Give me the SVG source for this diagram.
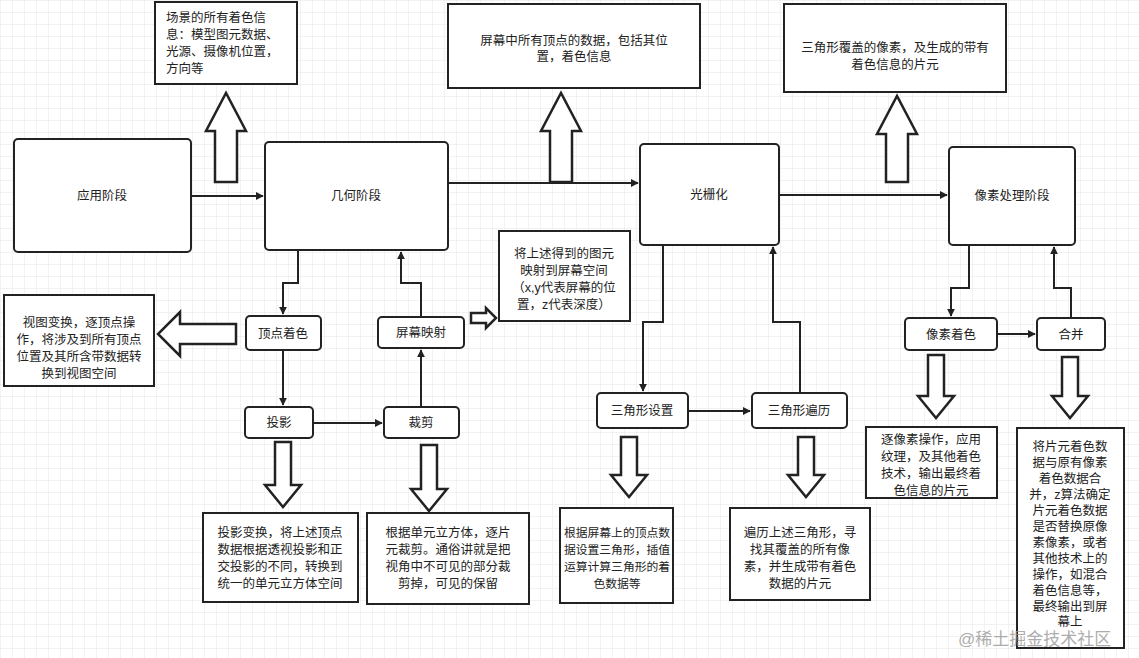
<svg xmlns="http://www.w3.org/2000/svg" width="1139" height="658" viewBox="0 0 1139 658">
<defs>
<pattern id="grid" width="12" height="12" patternUnits="userSpaceOnUse"><path d="M12 0H0V12" fill="none" stroke="#e6e6e6" stroke-width="1"/></pattern>
<marker id="ah" viewBox="0 0 10 10" refX="9" refY="5" markerWidth="8" markerHeight="8" markerUnits="userSpaceOnUse" orient="auto"><path d="M0,0 L10,5 L0,10 Z" fill="#222"/></marker>
<style>
.box{fill:#fff;stroke:#222;stroke-width:2}
.note{fill:#fff;stroke:#222;stroke-width:2}
.ha{fill:#fff;stroke:#222;stroke-width:2.5;stroke-linejoin:miter}
.c{fill:none;stroke:#222;stroke-width:2;marker-end:url(#ah)}
text{font-family:"Liberation Sans","Noto Sans CJK SC",sans-serif;font-size:12.5px;fill:#222}
.m{text-anchor:middle}
.s{font-size:11.8px}
</style>
</defs>
<rect width="1139" height="658" fill="#fff"/>
<rect width="1139" height="658" fill="url(#grid)"/>
<g id="connectors">
<path class="c" d="M191,196 H263"/>
<path class="c" d="M448,183 H638"/>
<path class="c" d="M779,195 H947"/>
<path class="c" d="M298,250 V283 H283 V314"/>
<path class="c" d="M421,317 V283 H401 V252"/>
<path class="c" d="M283,350 V405"/>
<path class="c" d="M313,423 H382"/>
<path class="c" d="M421,407 V350"/>
<path class="c" d="M663,245 V322 H643 V391"/>
<path class="c" d="M688,411 H750"/>
<path class="c" d="M800,393 V322 H773 V247"/>
<path class="c" d="M969,245 V288 H951 V316"/>
<path class="c" d="M997,334 H1035"/>
<path class="c" d="M1071,318 V288 H1054 V247"/>
<path class="ha" d="M215,182 H237 V131 H246 L226,93 L206,131 H215 Z"/>
<path class="ha" d="M550,182 H572 V131 H581 L561,93 L541,131 H550 Z"/>
<path class="ha" d="M886,182 H908 V134 H917 L897,96 L877,134 H886 Z"/>
<path class="ha" d="M236,324 H180 V312 L158,334 L180,356 V344 H236 Z"/>
<path class="ha" d="M471,313 H486 V308 L496,318 L486,328 V323 H471 Z"/>
<path class="ha" d="M275,442 H291 V485 H301 L283,507 L265,485 H275 Z"/>
<path class="ha" d="M421,445 H437 V489 H447 L429,511 L411,489 H421 Z"/>
<path class="ha" d="M621,437 H637 V475 H647 L629,497 L611,475 H621 Z"/>
<path class="ha" d="M798,437 H814 V475 H824 L806,497 L788,475 H798 Z"/>
<path class="ha" d="M928,355 H944 V396 H954 L936,418 L918,396 H928 Z"/>
<path class="ha" d="M1062,357 H1078 V396 H1088 L1070,418 L1052,396 H1062 Z"/>
</g>
<g id="n-app"><rect class="box" x="14" y="139" width="177" height="113" rx="4"/><text class="m" x="102" y="200">应用阶段</text></g>
<g id="n-geo"><rect class="box" x="265" y="142" width="183" height="108" rx="4"/><text class="m" x="356" y="200">几何阶段</text></g>
<g id="n-ras"><rect class="box" x="640" y="144" width="139" height="101" rx="4"/><text class="m" x="709" y="199">光栅化</text></g>
<g id="n-pix"><rect class="box" x="949" y="147" width="126" height="98" rx="4"/><text class="m" x="1012" y="200">像素处理阶段</text></g>
<g id="n-vs"><rect class="box" x="246" y="316" width="75" height="34" rx="4"/><text class="m" x="283" y="338">顶点着色</text></g>
<g id="n-sm"><rect class="box" x="378" y="317" width="86" height="31" rx="4"/><text class="m" x="421" y="337">屏幕映射</text></g>
<g id="n-proj"><rect class="box" x="245" y="407" width="68" height="31" rx="4"/><text class="m" x="279" y="427">投影</text></g>
<g id="n-clip"><rect class="box" x="384" y="407" width="75" height="31" rx="4"/><text class="m" x="421" y="427">裁剪</text></g>
<g id="n-tset"><rect class="box" x="597" y="393" width="91" height="35" rx="4"/><text class="m" x="642" y="415">三角形设置</text></g>
<g id="n-ttrav"><rect class="box" x="752" y="393" width="95" height="35" rx="4"/><text class="m" x="799" y="415">三角形遍历</text></g>
<g id="n-ps"><rect class="box" x="905" y="318" width="92" height="32" rx="4"/><text class="m" x="951" y="339">像素着色</text></g>
<g id="n-merge"><rect class="box" x="1037" y="318" width="68" height="32" rx="4"/><text class="m" x="1071" y="339">合并</text></g>
<g id="note1"><rect class="note" x="155" y="2" width="142" height="82"/><text x="166" y="22">场景的所有着色信</text><text x="166" y="39">息：模型图元数据、</text><text x="166" y="56">光源、摄像机位置，</text><text x="166" y="73">方向等</text></g>
<g id="note2"><rect class="note" x="448" y="4" width="252" height="84"/><text class="m" x="574" y="45">屏幕中所有顶点的数据，包括其位</text><text class="m" x="574" y="61">置，着色信息</text></g>
<g id="note3"><rect class="note" x="784" y="4" width="222" height="88"/><text class="m" x="895" y="52">三角形覆盖的像素，及生成的带有</text><text class="m" x="895" y="69">着色信息的片元</text></g>
<g id="note4"><rect class="note" x="4" y="295" width="150" height="91"/><text class="m" x="79" y="327">视图变换，逐顶点操</text><text class="m" x="79" y="344">作，将涉及到所有顶点</text><text class="m" x="79" y="361">位置及其所含带数据转</text><text class="m" x="79" y="378">换到视图空间</text></g>
<g id="note5"><rect class="note" x="499" y="231" width="131" height="90"/><text class="m" x="564" y="258">将上述得到的图元</text><text class="m" x="564" y="275">映射到屏幕空间</text><text class="m" x="564" y="292">（x,y代表屏幕的位</text><text class="m" x="564" y="309">置，z代表深度）</text></g>
<g id="note6"><rect class="note" x="203" y="513" width="155" height="89"/><text class="m" x="280" y="537">投影变换，将上述顶点</text><text class="m" x="280" y="554">数据根据透视投影和正</text><text class="m" x="280" y="571">交投影的不同，转换到</text><text class="m" x="280" y="588">统一的单元立方体空间</text></g>
<g id="note7"><rect class="note" x="367" y="513" width="162" height="91"/><text class="m" x="448" y="537">根据单元立方体，逐片</text><text class="m" x="448" y="554">元裁剪。通俗讲就是把</text><text class="m" x="448" y="571">视角中不可见的部分裁</text><text class="m" x="448" y="588">剪掉，可见的保留</text></g>
<g id="note8"><rect class="note" x="560" y="508" width="113" height="95"/><text class="m s" x="617" y="537">根据屏幕上的顶点数</text><text class="m s" x="617" y="554">据设置三角形，插值</text><text class="m s" x="617" y="571">运算计算三角形的着</text><text class="m s" x="617" y="588">色数据等</text></g>
<g id="note9"><rect class="note" x="730" y="508" width="140" height="92"/><text class="m" x="800" y="537">遍历上述三角形，寻</text><text class="m" x="800" y="554">找其覆盖的所有像</text><text class="m" x="800" y="571">素，并生成带有着色</text><text class="m" x="800" y="588">数据的片元</text></g>
<g id="note10"><rect class="note" x="866" y="427" width="131" height="71"/><text class="m" x="931" y="444">逐像素操作，应用</text><text class="m" x="931" y="461">纹理，及其他着色</text><text class="m" x="931" y="478">技术，输出最终着</text><text class="m" x="931" y="495">色信息的片元</text></g>
<g id="note11"><rect class="note" x="1017" y="428" width="107" height="220"/>
<text class="m" x="1070" y="451">将片元着色数</text><text class="m" x="1070" y="467">据与原有像素</text><text class="m" x="1070" y="483">着色数据合</text><text class="m" x="1070" y="499">并，z算法确定</text><text class="m" x="1070" y="515">片元着色数据</text><text class="m" x="1070" y="531">是否替换原像</text><text class="m" x="1070" y="547">素像素，或者</text><text class="m" x="1070" y="563">其他技术上的</text><text class="m" x="1070" y="579">操作，如混合</text><text class="m" x="1070" y="595">着色信息等，</text><text class="m" x="1070" y="611">最终输出到屏</text><text class="m" x="1070" y="626">幕上</text></g>
<text x="958" y="645" style="font-size:17px;fill:#999;opacity:0.8">@稀土掘金技术社区</text>
</svg>
